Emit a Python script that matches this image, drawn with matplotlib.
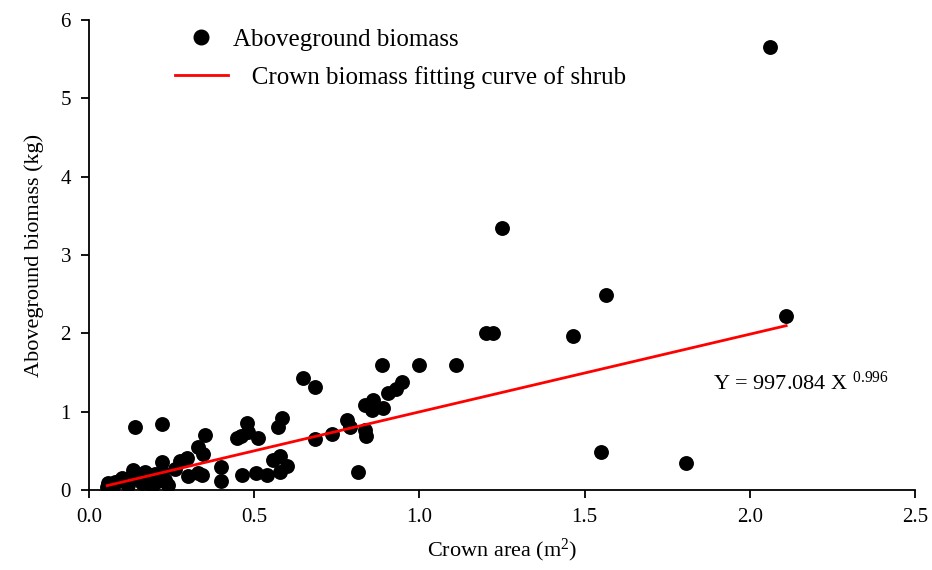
import matplotlib
matplotlib.use("Agg")
import matplotlib.pyplot as plt
import numpy as np
from matplotlib.lines import Line2D

plt.rcParams['font.family'] = ['Liberation Serif', 'DejaVu Serif']
plt.rcParams['mathtext.fontset'] = 'custom'
plt.rcParams['mathtext.rm'] = 'Liberation Serif'
plt.rcParams['mathtext.it'] = 'Liberation Serif:italic'

# Crown area (m^2)
crown_area = [0.055, 0.07, 0.058, 0.08, 0.09, 0.10, 0.118, 0.118, 0.13, 0.133, 0.14, 0.15,
              0.16, 0.17, 0.19, 0.194, 0.19, 0.20, 0.21, 0.22, 0.23, 0.24, 0.22, 0.14,
              0.22, 0.26, 0.275, 0.297, 0.30, 0.33, 0.342, 0.33, 0.345, 0.35, 0.40, 0.40,
              0.448, 0.46, 0.463, 0.478, 0.48, 0.51, 0.505, 0.54, 0.557, 0.578, 0.60, 0.578,
              0.572, 0.584, 0.648, 0.684, 0.684, 0.735, 0.78, 0.79, 0.814, 0.835, 0.838,
              0.835, 0.86, 0.857, 0.89, 0.905, 0.93, 0.947, 0.887, 1.0, 1.11, 1.20, 1.222,
              1.25, 1.465, 1.55, 1.565, 1.807, 2.06, 2.11]
# Aboveground biomass (kg)
biomass = [0.04, 0.03, 0.09, 0.10, 0.12, 0.15, 0.13, 0.06, 0.18, 0.26, 0.22, 0.15,
           0.09, 0.23, 0.19, 0.09, 0.04, 0.20, 0.12, 0.23, 0.13, 0.06, 0.36, 0.81,
           0.84, 0.27, 0.37, 0.41, 0.18, 0.22, 0.19, 0.55, 0.46, 0.70, 0.29, 0.12,
           0.66, 0.69, 0.19, 0.85, 0.74, 0.66, 0.22, 0.19, 0.38, 0.44, 0.30, 0.23,
           0.80, 0.92, 1.43, 1.32, 0.65, 0.71, 0.89, 0.80, 0.23, 0.77, 0.69,
           1.09, 1.15, 1.02, 1.05, 1.24, 1.29, 1.38, 1.59, 1.59, 1.59, 2.01, 2.01,
           3.34, 1.97, 0.49, 2.49, 0.35, 5.66, 2.22]

# Fitted power model Y = a X^b (a in g -> kg)
fit_a = 997.084
fit_b = 0.996

fig = plt.figure(figsize=(9.32, 5.70), dpi=100)
ax = fig.add_axes([0.0955, 0.1404, 0.8863, 0.8246])

ax.scatter(crown_area, biomass, s=115, color='black', zorder=3, linewidths=0)
xf = np.linspace(min(crown_area), max(crown_area), 200)
yf = fit_a / 1000.0 * xf ** fit_b
ax.plot(xf, yf, color='#ff0000', lw=2, zorder=4)

ax.set_xlim(0, 2.5)
ax.set_ylim(0, 6)
ax.set_xticks(np.arange(0, 2.51, 0.5))
ax.set_xticklabels(['0.0', '0.5', '1.0', '1.5', '2.0', '2.5'])
ax.set_yticks(range(0, 7))
for s in ['top', 'right']:
    ax.spines[s].set_visible(False)
for s in ['left', 'bottom']:
    ax.spines[s].set_linewidth(1.3)
ax.tick_params(direction='out', length=6, width=1.3, labelsize=15, pad=7)

ax.set_xlabel('Crown area (m$^{2}$)', fontsize=16, labelpad=7)
ax.set_ylabel('Aboveground biomass (kg)', fontsize=16, labelpad=12)

handles = [Line2D([], [], marker='o', color='black', linestyle='none', markersize=10.5),
           Line2D([], [], color='#ff0000', lw=2)]
labels = ['Aboveground biomass', '   Crown biomass fitting curve of shrub']
ax.legend(handles, labels, loc='upper left', bbox_to_anchor=(0.077, 1.03), frameon=False,
          fontsize=18, handlelength=2.1, handletextpad=0.2, labelspacing=0.6)

ax.text(0.755, 0.227, 'Y = 997.084 X $^{0.996}$', transform=ax.transAxes, fontsize=16,
        ha='left', va='center')

fig.savefig('out.png', dpi=100)
